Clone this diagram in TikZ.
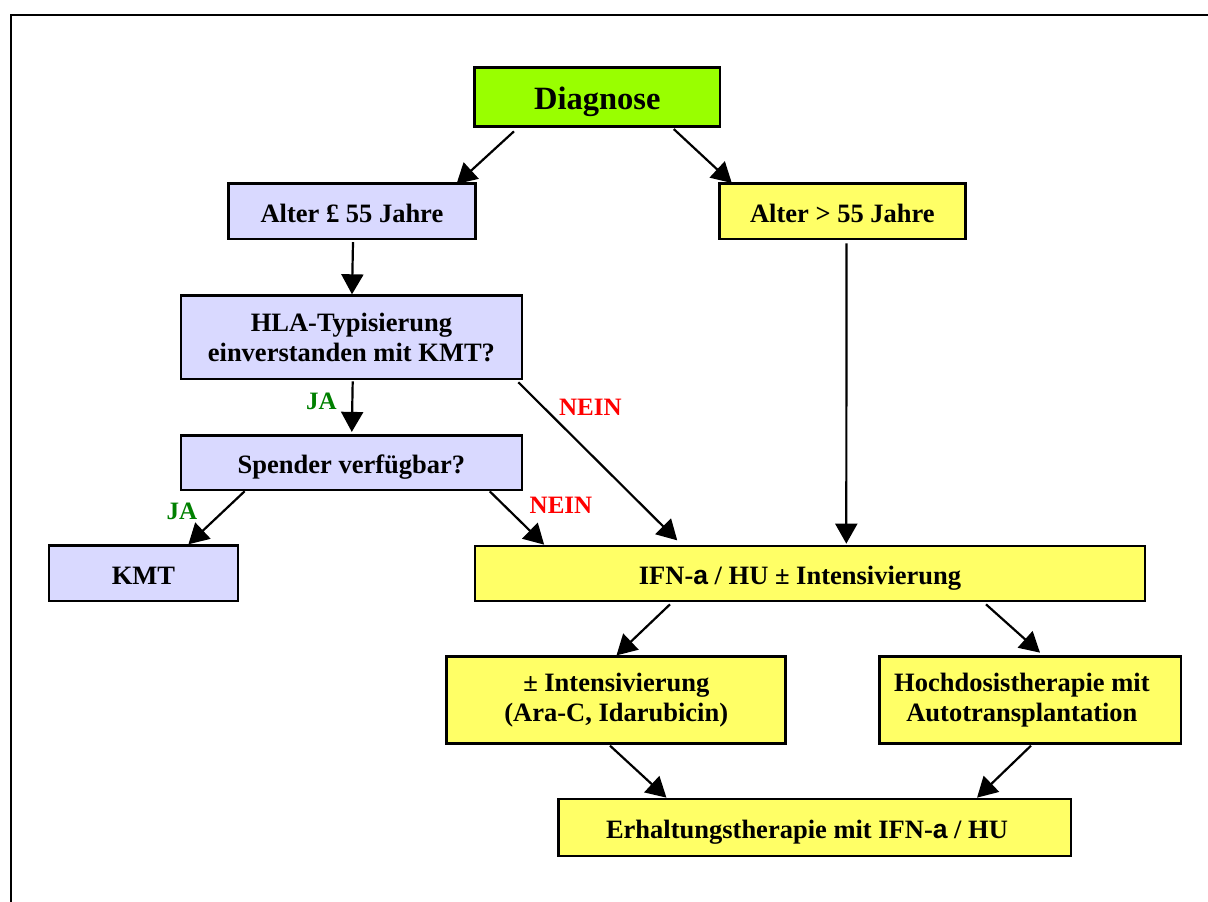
\documentclass[tikz,border=0pt]{standalone}
\usepackage{fontspec}
\setmainfont{Liberation Serif}
\setsansfont{Liberation Sans}
\usetikzlibrary{arrows.meta}
\definecolor{diaggreen}{HTML}{99FF00}
\definecolor{lav}{HTML}{D9D9FF}
\definecolor{yel}{HTML}{FFFF66}
\definecolor{jagreen}{HTML}{008000}
\definecolor{neinred}{HTML}{FF0000}
\newcommand{\alphaglyph}{{\sffamily a}}
\begin{document}
\begin{tikzpicture}[x=1pt,y=-1pt,
  box/.style={draw=black, line width=2.7pt, rectangle, inner sep=0pt, align=center,
    font=\bfseries\fontsize{26.5}{30}\selectfont},
  onebox/.style={text height=21.6pt, text depth=0pt},
  lavbox/.style={box, fill=lav},
  yelbox/.style={box, fill=yel},
  arr/.style={line width=2.2pt, -{Triangle[length=20pt,width=22pt]}},
  lab/.style={font=\bfseries\fontsize{25}{28}\selectfont, inner sep=0pt, text height=16.5pt, text depth=0pt},
  jalab/.style={lab, text=jagreen},
  neinlab/.style={lab, text=neinred}
]
\useasboundingbox (0,0) rectangle (1208,902);
\draw[line width=2pt] (10.5,902) -- (10.5,15) -- (1208,15);

\node[box, fill=diaggreen, minimum width=245.5pt, minimum height=59pt,
  font=\bfseries\fontsize{32.5}{36}\selectfont, text height=25.2pt, text depth=0pt] (diag) at (597.25,97.2) {Diagnose};
\node[lavbox, onebox, minimum width=246.8pt, minimum height=55.7pt] (alt1) at (351.9,211.2) {Alter £ 55 Jahre};
\node[yelbox, onebox, minimum width=246pt, minimum height=55.7pt] (alt2) at (842.4,211.2) {Alter > 55 Jahre};
\node[lavbox, minimum width=341pt, minimum height=83.3pt] (hla) at (351.4,337.3) {HLA-Typisierung\\einverstanden mit KMT?};
\node[lavbox, onebox, minimum width=341pt, minimum height=54.3pt] (spend) at (351.4,462.8) {Spender verfügbar?};
\node[lavbox, onebox, minimum width=189pt, minimum height=55.3pt] (kmt) at (143.5,573.3) {KMT};
\node[yelbox, onebox, minimum width=670pt, minimum height=55pt] (ifn) at (810,573.5) {IFN-\alphaglyph{} / HU ± Intensivierung\hspace*{20pt}};
\node[yelbox, minimum width=339pt, minimum height=86.6pt] (int) at (616.3,700) {± Intensivierung\\(Ara-C, Idarubicin)};
\node[yelbox, minimum width=301.2pt, minimum height=86.6pt] (hoch) at (1030.4,700) {Hochdosistherapie mit\hspace*{17pt}\\Autotransplantation\hspace*{17pt}};
\node[yelbox, onebox, minimum width=512.3pt, minimum height=57pt] (erh) at (814.75,827.5) {Erhaltungstherapie mit IFN-\alphaglyph{} / HU\hspace*{15.5pt}};

\draw[arr] ([xshift=-83.25pt,yshift=-3.3pt]diag.south) -- ([xshift=104.6pt,yshift=-2pt]alt1.north);
\draw[arr] ([xshift=76.5pt,yshift=-1pt]diag.south) -- ([xshift=-110.6pt,yshift=-1pt]alt2.north);
\draw[arr] ([xshift=1.1pt,yshift=-1.7pt]alt1.south) -- ([xshift=0.6pt]hla.north);
\draw[arr] ([xshift=4.1pt,yshift=-3pt]alt2.south) -- ([xshift=36.3pt,yshift=1pt]ifn.north);
\draw[arr] ([xshift=1.3pt,yshift=-1pt]hla.south) -- ([xshift=0.4pt,yshift=2.4pt]spend.north);
\draw[arr] ([xshift=-4.9pt,yshift=-2pt]hla.south east) -- ([xshift=203.6pt,yshift=4.3pt]ifn.north west);
\draw[arr] ([xshift=-106.8pt]spend.south) -- ([xshift=44.9pt]kmt.north);
\draw[arr] ([xshift=138.3pt]spend.south) -- ([xshift=70.5pt]ifn.north west);
\draw[arr] ([xshift=-140pt,yshift=-2pt]ifn.south) -- ([xshift=0.2pt]int.north);
\draw[arr] ([xshift=176pt,yshift=-2pt]ifn.south) -- ([xshift=9.6pt,yshift=2.7pt]hoch.north);
\draw[arr] ([xshift=-6.3pt,yshift=-1pt]int.south) -- ([xshift=-148.3pt]erh.north);
\draw[arr] ([xshift=0.6pt,yshift=-1pt]hoch.south) -- ([xshift=162.3pt]erh.north);

\node[jalab] (ja1) at (321.5,401.7) {JA};
\node[neinlab] (nein1) at (590.4,407.4) {NEIN};
\node[jalab] (ja2) at (182,511) {JA};
\node[neinlab] (nein2) at (561,505) {NEIN};
\end{tikzpicture}
\end{document}
